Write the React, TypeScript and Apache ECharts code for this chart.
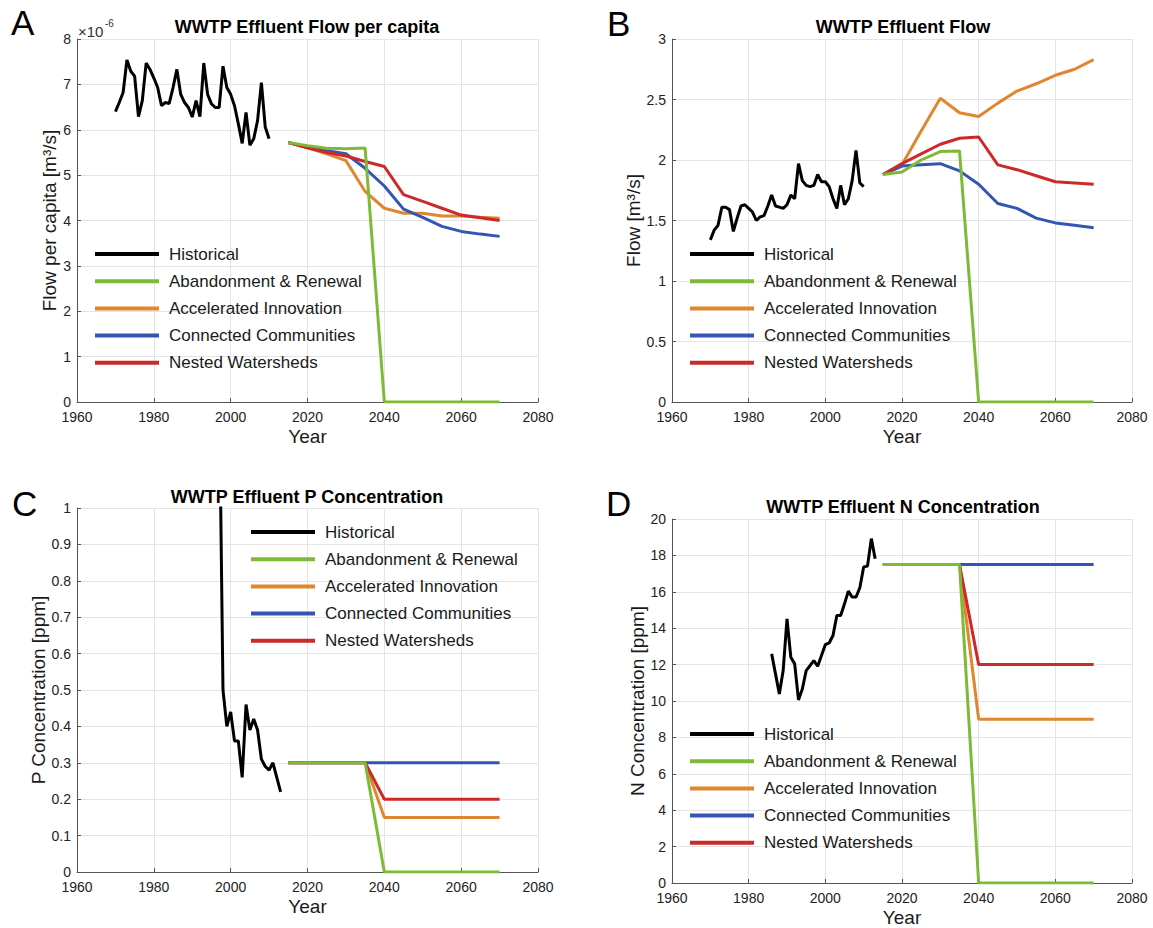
import React, { useEffect, useRef } from "react";
import * as echarts from "echarts";

// ---------- DATA ----------
const scenarioYears = [2015, 2020, 2025, 2030, 2035, 2040, 2045, 2050, 2055, 2060, 2065, 2070];

const flowHistYears = [
  1970, 1971, 1972, 1973, 1974, 1975, 1976, 1977, 1978, 1979,
  1980, 1981, 1982, 1983, 1984, 1985, 1986, 1987, 1988, 1989,
  1990, 1991, 1992, 1993, 1994, 1995, 1996, 1997, 1998, 1999,
  2000, 2001, 2002, 2003, 2004, 2005, 2006, 2007, 2008, 2009,
  2010,
];

// Panel A: flow per capita, in units of 1e-6 m3/s
const flowPerCapitaHist = [
  6.40, 6.60, 6.82, 7.54, 7.29, 7.18, 6.29, 6.64, 7.47, 7.33,
  7.14, 6.93, 6.53, 6.60, 6.58, 6.93, 7.33, 6.78, 6.60, 6.49,
  6.28, 6.64, 6.29, 7.47, 6.78, 6.57, 6.49, 6.49, 7.40, 6.93,
  6.78, 6.53, 6.13, 5.70, 6.38, 5.66, 5.80, 6.20, 7.04, 6.06,
  5.80,
];
const fpcAbandonment = [5.72, 5.65, 5.59, 5.58, 5.60, 0, 0, 0, 0, 0, 0, 0];
const fpcAccelerated = [5.72, 5.60, 5.47, 5.32, 4.64, 4.27, 4.16, 4.16, 4.10, 4.10, 4.07, 4.05];
const fpcConnected = [5.72, 5.62, 5.54, 5.47, 5.15, 4.76, 4.25, 4.07, 3.87, 3.76, 3.70, 3.65];
const fpcNested = [5.72, 5.60, 5.50, 5.42, 5.30, 5.19, 4.57, 4.42, 4.27, 4.12, 4.06, 4.00];

// Panel B: flow, m3/s
const flowHist = [
  1.34, 1.42, 1.46, 1.61, 1.61, 1.59, 1.41, 1.52, 1.62, 1.63,
  1.60, 1.57, 1.50, 1.53, 1.54, 1.62, 1.71, 1.62, 1.61, 1.60,
  1.63, 1.71, 1.68, 1.97, 1.83, 1.79, 1.78, 1.79, 1.88, 1.82,
  1.82, 1.78, 1.68, 1.60, 1.79, 1.63, 1.68, 1.83, 2.08, 1.81,
  1.78,
];
const flowAbandonment = [1.88, 1.90, 2.00, 2.07, 2.075, 0, 0, 0, 0, 0, 0, 0];
const flowAccelerated = [1.88, 1.96, 2.24, 2.51, 2.39, 2.36, 2.47, 2.57, 2.63, 2.70, 2.75, 2.83];
const flowConnected = [1.88, 1.95, 1.96, 1.97, 1.91, 1.80, 1.64, 1.60, 1.52, 1.48, 1.46, 1.44];
const flowNested = [1.88, 1.97, 2.05, 2.13, 2.18, 2.19, 1.96, 1.92, 1.87, 1.82, 1.81, 1.80];

// Panel C: P concentration, ppm
const pHistYears = [1997, 1998, 1999, 2000, 2001, 2002, 2003, 2004, 2005, 2006, 2007, 2008, 2009, 2010, 2011, 2012, 2013];
const pHist = [1.35, 0.50, 0.40, 0.44, 0.36, 0.36, 0.26, 0.46, 0.39, 0.42, 0.39, 0.31, 0.29, 0.28, 0.30, 0.26, 0.22];
const pAbandonment = [0.3, 0.3, 0.3, 0.3, 0.3, 0, 0, 0, 0, 0, 0, 0];
const pAccelerated = [0.3, 0.3, 0.3, 0.3, 0.3, 0.15, 0.15, 0.15, 0.15, 0.15, 0.15, 0.15];
const pConnected = [0.3, 0.3, 0.3, 0.3, 0.3, 0.3, 0.3, 0.3, 0.3, 0.3, 0.3, 0.3];
const pNested = [0.3, 0.3, 0.3, 0.3, 0.3, 0.2, 0.2, 0.2, 0.2, 0.2, 0.2, 0.2];

// Panel D: N concentration, ppm
const nHistYears = [
  1986, 1987, 1988, 1989, 1990, 1991, 1992, 1993, 1994, 1995,
  1996, 1997, 1998, 1999, 2000, 2001, 2002, 2003, 2004, 2005,
  2006, 2007, 2008, 2009, 2010, 2011, 2012, 2013,
];
const nHist = [
  12.59, 11.49, 10.39, 11.67, 14.51, 12.40, 12.04, 10.06, 10.66, 11.67,
  11.94, 12.22, 11.91, 12.50, 13.10, 13.19, 13.60, 14.70, 14.70, 15.34,
  16.04, 15.71, 15.71, 16.22, 17.36, 17.41, 18.92, 17.82,
];
const nAbandonment = [17.5, 17.5, 17.5, 17.5, 17.5, 0, 0, 0, 0, 0, 0, 0];
const nAccelerated = [17.5, 17.5, 17.5, 17.5, 17.5, 9, 9, 9, 9, 9, 9, 9];
const nConnected = [17.5, 17.5, 17.5, 17.5, 17.5, 17.5, 17.5, 17.5, 17.5, 17.5, 17.5, 17.5];
const nNested = [17.5, 17.5, 17.5, 17.5, 17.5, 12, 12, 12, 12, 12, 12, 12];

const seriesNames = [
  "Historical",
  "Abandonment & Renewal",
  "Accelerated Innovation",
  "Connected Communities",
  "Nested Watersheds",
];
const panelTitles = [
  "WWTP Effluent Flow per capita",
  "WWTP Effluent Flow",
  "WWTP Effluent P Concentration",
  "WWTP Effluent N Concentration",
];
const yAxisNames = [
  "Flow per capita [m³/s]",
  "Flow [m³/s]",
  "P Concentration [ppm]",
  "N Concentration [ppm]",
];
const panelLetters = ["A", "B", "C", "D"];
const yMax = [8, 3, 1, 20];
const yInterval = [1, 0.5, 0.1, 2];

// ---------- STYLE / LAYOUT ----------
const FONT = "'Liberation Sans', Arial, Helvetica, sans-serif";
const COLORS = {
  hist: "#000000",
  green: "#7DBB36",
  orange: "#E0862F",
  blue: "#3356B4",
  red: "#CC2A2A",
};
const grids = [
  { left: 77, top: 39, width: 461, height: 363 },
  { left: 672, top: 39, width: 460, height: 363 },
  { left: 77, top: 508, width: 461, height: 364 },
  { left: 672, top: 519, width: 460, height: 364 },
];
const yNameGaps = [17, 27, 29, 25];
const titlePos = [
  [307, 27],
  [903, 27],
  [307, 497],
  [903, 507],
];
const letterPos = [
  [11, 5],
  [607, 6],
  [12, 486],
  [606, 486],
];
const legendPos = [
  [95, 244],
  [690, 244],
  [251, 522],
  [690, 724],
];

const pairs = (xs: number[], ys: number[]) => xs.map((x, i) => [x, ys[i]]);

const panelData = [
  { hx: flowHistYears, hy: flowPerCapitaHist, ab: fpcAbandonment, ac: fpcAccelerated, cc: fpcConnected, nw: fpcNested },
  { hx: flowHistYears, hy: flowHist, ab: flowAbandonment, ac: flowAccelerated, cc: flowConnected, nw: flowNested },
  { hx: pHistYears, hy: pHist, ab: pAbandonment, ac: pAccelerated, cc: pConnected, nw: pNested },
  { hx: nHistYears, hy: nHist, ab: nAbandonment, ac: nAccelerated, cc: nConnected, nw: nNested },
];

function buildOption() {
  const series: any[] = [];
  panelData.forEach((p, i) => {
    const base = {
      type: "line",
      xAxisIndex: i,
      yAxisIndex: i,
      showSymbol: false,
      symbol: "none",
      clip: true,
    };
    const mk = (name: string, data: number[][], color: string) => ({
      ...base,
      name,
      data,
      itemStyle: { color },
      lineStyle: { color, width: 3 },
    });
    series.push(mk(seriesNames[0], pairs(p.hx, p.hy), COLORS.hist));
    series.push(mk(seriesNames[2], pairs(scenarioYears, p.ac), COLORS.orange));
    series.push(mk(seriesNames[3], pairs(scenarioYears, p.cc), COLORS.blue));
    series.push(mk(seriesNames[4], pairs(scenarioYears, p.nw), COLORS.red));
    series.push(mk(seriesNames[1], pairs(scenarioYears, p.ab), COLORS.green));
  });

  const axisLine = { show: true, lineStyle: { color: "#555555", width: 1 } };
  const axisTick = { show: true, inside: true, length: 4, lineStyle: { color: "#555555" } };
  const splitLine = { show: true, lineStyle: { color: "#e4e4e4", width: 1 } };

  const xAxis = grids.map((_, i) => ({
    type: "value",
    gridIndex: i,
    min: 1960,
    max: 2080,
    interval: 20,
    name: "Year",
    nameLocation: "middle",
    nameGap: 25,
    nameTextStyle: { fontSize: 19, color: "#1a1a1a", fontFamily: FONT },
    axisLine,
    axisTick,
    splitLine,
    axisLabel: {
      fontSize: 14,
      color: "#222222",
      fontFamily: FONT,
      margin: 8,
      formatter: (v: number) => String(v),
    },
  }));

  const yAxis = grids.map((_, i) => ({
    type: "value",
    gridIndex: i,
    min: 0,
    max: yMax[i],
    interval: yInterval[i],
    name: yAxisNames[i],
    nameLocation: "middle",
    nameGap: yNameGaps[i],
    nameRotate: 90,
    nameTextStyle: { fontSize: 19, color: "#1a1a1a", fontFamily: FONT },
    axisLine,
    axisTick,
    splitLine,
    axisLabel: { fontSize: 14, color: "#222222", fontFamily: FONT, margin: 6 },
  }));

  const legend = legendPos.map(([l, t]) => ({
    data: seriesNames,
    left: l,
    top: t,
    orient: "vertical",
    icon: "rect",
    itemWidth: 64,
    itemHeight: 4,
    itemGap: 7.2,
    padding: 0,
    selectedMode: false,
    textStyle: {
      fontSize: 17,
      color: "#1a1a1a",
      fontFamily: FONT,
      lineHeight: 20,
      padding: [0, 0, 0, 5],
    },
  }));

  const graphic: any[] = [];
  titlePos.forEach(([x, y], i) => {
    graphic.push({
      type: "text",
      x,
      y,
      silent: true,
      style: {
        text: panelTitles[i],
        fontSize: 18,
        fontWeight: "bold",
        fontFamily: FONT,
        fill: "#000000",
        align: "center",
        verticalAlign: "middle",
      },
    });
  });
  letterPos.forEach(([x, y], i) => {
    graphic.push({
      type: "text",
      x,
      y,
      silent: true,
      style: {
        text: panelLetters[i],
        fontSize: 35,
        fontFamily: FONT,
        fill: "#000000",
        align: "left",
        verticalAlign: "top",
      },
    });
  });
  graphic.push({
    type: "text",
    x: 78,
    y: 24,
    silent: true,
    style: { text: "×10", fontSize: 15, fontFamily: FONT, fill: "#333333", align: "left", verticalAlign: "top" },
  });
  graphic.push({
    type: "text",
    x: 105,
    y: 18,
    silent: true,
    style: { text: "-6", fontSize: 10, fontFamily: FONT, fill: "#333333", align: "left", verticalAlign: "top" },
  });

  return {
    animation: false,
    backgroundColor: "#ffffff",
    textStyle: { fontFamily: FONT },
    grid: grids.map((g) => ({ ...g, containLabel: false })),
    xAxis,
    yAxis,
    legend,
    series,
    graphic,
  };
}

export default function App() {
  const ref = useRef<HTMLDivElement>(null);
  useEffect(() => {
    if (!ref.current) return;
    const chart = echarts.init(ref.current, undefined, { renderer: "svg" });
    chart.setOption(buildOption() as any);
    return () => chart.dispose();
  }, []);
  return (
    <div
      ref={ref}
      style={{ position: "fixed", left: 0, top: 0, width: 1153, height: 928, background: "#fff" }}
    />
  );
}
